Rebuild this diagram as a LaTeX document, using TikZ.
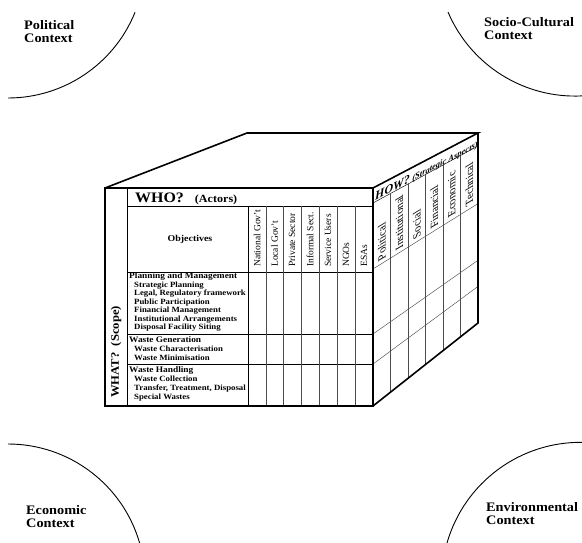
\documentclass[tikz,border=0pt]{standalone}
\usepackage{fontspec}
\setmainfont{Liberation Serif}
\newfontfamily\widefont{Liberation Serif}[FakeStretch=1.1]
\usetikzlibrary{calc}

\begin{document}
\begin{tikzpicture}[x=1pt,y=-1pt,edge/.style={line width=1.6pt,line join=miter},rule/.style={line width=0.8pt},gridline/.style={line width=0.45pt,black!70},arcline/.style={line width=0.9pt},ctx/.style={anchor=north west,inner sep=0pt,align=left,font=\widefont\bfseries\fontsize{13}{13}\selectfont},actor/.style={rotate=90,anchor=west,inner sep=1pt,font=\fontsize{9.5}{10}\selectfont},aspect/.style={cm={0,1,-1,-0.6,(0,0)},anchor=west,inner sep=1pt,font=\fontsize{11}{11}\selectfont},objrow/.style={anchor=north west,inner sep=0pt,align=left,font=\widefont\bfseries\fontsize{8}{#1}\selectfont}]
\useasboundingbox (0,0) rectangle (582,543);
% context arcs in the corners
\draw[arcline] (8,98) arc[start angle=90,end angle=22,radius=137];
\draw[arcline] (448,12) arc[start angle=157,end angle=87,radius=138];
\draw[arcline] (8,444) arc[start angle=-90,end angle=-16,radius=137];
\draw[arcline] (447,543) arc[start angle=196,end angle=271,radius=139];
\node[ctx] (polctx) at (24,20) {Political\\Context};
\node[ctx] (socctx) at (484,17.5) {Socio-Cultural\\Context};
\node[ctx] (ecoctx) at (26,505.5) {Economic\\Context};
\node[ctx] (envctx) at (486,502.5) {Environmental\\Context};
% cube corners
\coordinate (ftl) at (105,188); \coordinate (ftr) at (373,188);
\coordinate (fbl) at (105,406); \coordinate (fbr) at (373,406);
\coordinate (btl) at (247,133); \coordinate (btr) at (478,133);
\coordinate (bbr) at (478,323);
\coordinate (hf) at (373,203); \coordinate (hb) at (478,146);
\coordinate (cf) at (373,269); \coordinate (cb) at (478,203.7);
% front face grid
\draw[rule] (127,188) -- (127,406);
\draw[rule] (127,206) -- (373,206);
\draw[rule] (127,272) -- (373,272);
\draw[rule] (248,206) -- (248,406);
\foreach \y in {334,364}
   \draw[gridline,black] (127,\y) -- (373,\y);
\foreach \x in {266,283,301,319,337,355}
   \draw[gridline] (\x,206) -- (\x,406);
% side face grid
\draw[gridline,black] (hf) -- (hb);
\foreach \y in {269,334,364} {
   \pgfmathsetmacro\yb{133+(\y-188)*0.8716}
   \draw[gridline] (373,\y) -- (478,\yb);
}
\foreach \u in {0.1667,0.3333,0.5,0.6667,0.8333}
   \draw[gridline] ($(hf)!\u!(hb)$) -- ($(fbr)!\u!(bbr)$);
% cube outline
\draw[edge] (ftl) rectangle (fbr);
\draw[edge] (ftl) -- (btl) -- (btr) -- (ftr);
\draw[edge] (btr) -- (bbr) -- (fbr);
% labels
\node[anchor=base west,inner sep=0pt,font=\widefont\bfseries] (who) at (135,203) {{\fontsize{14.5}{14.5}\selectfont WHO?}\hspace{11pt}{\fontsize{11}{11}\selectfont (Actors)}};
\node[font=\widefont\bfseries\fontsize{9}{9}\selectfont] (obj) at (190,239) {Objectives};
\node[rotate=90,font=\widefont\bfseries\fontsize{11.5}{11.5}\selectfont] (what) at (116,352) {WHAT?\ \ (Scope)};
\node[cm={1,0.53,0,1,(0,0)},anchor=base west,inner sep=0pt,font=\bfseries\itshape] (how) at (375,201) {{\fontsize{12}{12}\selectfont HOW?} {\fontsize{8.5}{8.5}\selectfont (Strategic Aspects)}};
\foreach \x/\1 [count=\i] in %
{257/National Gov't,274.5/Local Gov't,292/Private Sector,310/Informal Sect.,328/Service Users,346/NGOs,364/ESAs} {
   \node[actor] (actor\i) at (\x,268) {\1};
}
\foreach \u/\1 [count=\i] in %
{0.0833/Political,0.25/Institutional,0.4167/Social,0.5833/Financial,0.75/Economic,0.9167/Technical} {
   \path ($(cf)!\u!(cb)$) ++(0,-2) node[aspect] (aspect\i) {\1};
}
\node[objrow=8.5pt] (plan) at (129,272.5) {{\fontsize{8.5}{8.5}\selectfont Planning and Management}\\
   \hspace*{5pt}Strategic Planning\\
   \hspace*{5pt}Legal, Regulatory framework\\
   \hspace*{5pt}Public Participation\\
   \hspace*{5pt}Financial Management\\
   \hspace*{5pt}Institutional Arrangements\\
   \hspace*{5pt}Disposal Facility Siting};
\node[objrow=9pt] (gen) at (129,336) {{\fontsize{8.5}{8.5}\selectfont Waste Generation}\\
   \hspace*{5pt}Waste Characterisation\\
   \hspace*{5pt}Waste Minimisation};
\node[objrow=9pt] (hand) at (129,366) {{\fontsize{8.5}{8.5}\selectfont Waste Handling}\\
   \hspace*{5pt}Waste Collection\\
   \hspace*{5pt}Transfer, Treatment, Disposal\\
   \hspace*{5pt}Special Wastes};
\end{tikzpicture}
\end{document}
